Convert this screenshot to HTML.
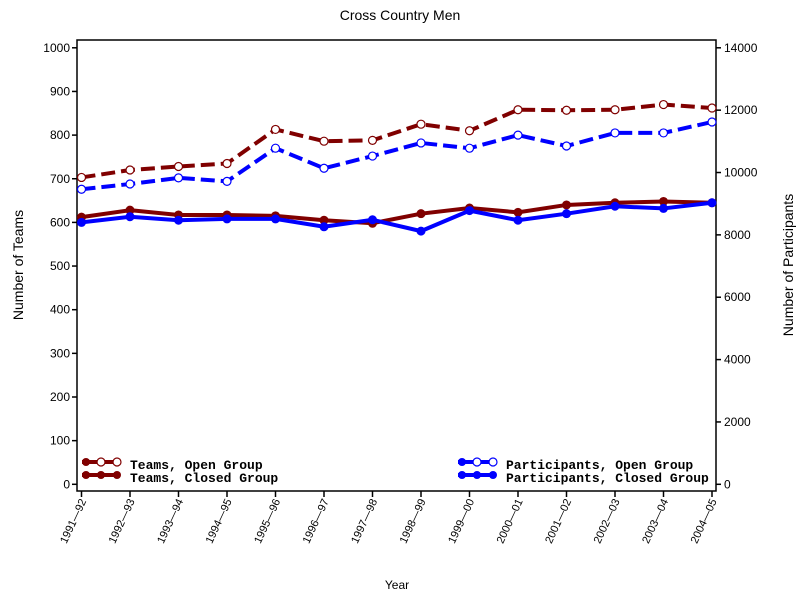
<!DOCTYPE html>
<html><head><meta charset="utf-8"><style>body{margin:0;background:#fff}svg{display:block}text{font-family:"Liberation Sans",sans-serif}text.mono{font-family:"Liberation Mono",monospace}</style></head><body>
<svg width="800" height="600" xmlns="http://www.w3.org/2000/svg">
<rect width="800" height="600" fill="#fff"/>
<text x="400" y="20" font-size="14" text-anchor="middle">Cross Country Men</text>
<g stroke="#000" stroke-width="1.5" fill="none">
<rect x="77" y="40" width="639" height="451"/>
</g>
<g id="lt" font-size="12" text-anchor="end"></g>
<g id="rt" font-size="12" text-anchor="start"></g>
<g id="xt" font-size="11"></g>
<text x="23" y="265" font-size="14" text-anchor="middle" transform="rotate(-90 23 265)">Number of Teams</text>
<text x="793" y="265" font-size="14" text-anchor="middle" transform="rotate(-90 793 265)">Number of Participants</text>
<text x="397" y="589" font-size="12" text-anchor="middle">Year</text>
<g id="series"></g>
<g font-size="13" font-weight="bold">
<text class="mono" x="130" y="469">Teams, Open Group</text>
<text class="mono" x="130" y="482">Teams, Closed Group</text>
<text class="mono" x="506" y="469">Participants, Open Group</text>
<text class="mono" x="506" y="482">Participants, Closed Group</text>
</g>
<g stroke-width="4">
<line x1="82" y1="462" x2="118" y2="462" stroke="#800000"/>
<circle cx="86" cy="462" r="4" fill="#800000" stroke="none"/><circle cx="101" cy="462" r="4" fill="#fff" stroke="#800000" stroke-width="1.2"/><circle cx="117" cy="462" r="4" fill="#fff" stroke="#800000" stroke-width="1.2"/>
<line x1="82" y1="475" x2="118" y2="475" stroke="#800000"/>
<circle cx="86" cy="475" r="4" fill="#800000"/><circle cx="101" cy="475" r="4" fill="#800000"/><circle cx="117" cy="475" r="4" fill="#800000"/>
<line x1="458" y1="462" x2="494" y2="462" stroke="#0000ff"/>
<circle cx="462" cy="462" r="4" fill="#0000ff"/><circle cx="477" cy="462" r="4" fill="#fff" stroke="#0000ff" stroke-width="1.2"/><circle cx="493" cy="462" r="4" fill="#fff" stroke="#0000ff" stroke-width="1.2"/>
<line x1="458" y1="475" x2="494" y2="475" stroke="#0000ff"/>
<circle cx="462" cy="475" r="4" fill="#0000ff"/><circle cx="477" cy="475" r="4" fill="#0000ff"/><circle cx="493" cy="475" r="4" fill="#0000ff"/>
</g>
<script>
const NS="http://www.w3.org/2000/svg";
function el(p,t,a,txt){const e=document.createElementNS(NS,t);for(const k in a)e.setAttribute(k,a[k]);if(txt!==undefined)e.textContent=txt;p.appendChild(e);return e;}
const Y=v=>484.3-v*0.4365, X=i=>81.5+i*48.5;
const lt=document.getElementById('lt'),rt=document.getElementById('rt'),xt=document.getElementById('xt');
for(let v=0;v<=1000;v+=100){const y=Y(v);el(lt,'line',{x1:72,x2:77,y1:y,y2:y,stroke:'#000','stroke-width':1.5});el(lt,'text',{x:70,y:y+4},v);}
for(let v=0;v<=14000;v+=2000){const y=Y(v/14);el(rt,'line',{x1:716,x2:721,y1:y,y2:y,stroke:'#000','stroke-width':1.5});el(rt,'text',{x:724,y:y+4},v);}
const yrs=["1991-92","1992-93","1993-94","1994-95","1995-96","1996-97","1997-98","1998-99","1999-00","2000-01","2001-02","2002-03","2003-04","2004-05"];
yrs.forEach((s,i)=>{const x=X(i);el(xt,'line',{x1:x,x2:x,y1:491,y2:497,stroke:'#000','stroke-width':1.5});el(xt,'text',{x:x+5,y:501,'text-anchor':'end',transform:`rotate(-65 ${x+5} 501)`},s.replace('-','\u2014'));});
const S=document.getElementById('series');
const data=[
 ["#800000",true,[703,720,728,735,813,786,788,825,810,858,857,858,870,862]],
 ["#0000ff",true,[676,688,702,694,770,724,752,782,770,800,775,805,805,830]],
 ["#800000",false,[612,628,617,617,615,605,598,620,633,623,640,645,648,645]],
 ["#0000ff",false,[600,613,605,608,608,590,606,580,627,605,620,637,632,645]]];
data.forEach(([c,open,v])=>{
 const pts=v.map((d,i)=>X(i)+','+Y(d)).join(' ');
 el(S,'polyline',{points:pts,fill:'none',stroke:c,'stroke-width':4,'stroke-dasharray':open?'14,6':'none'});
 v.forEach((d,i)=>el(S,'circle',{cx:X(i),cy:Y(d),r:4,fill:open?'#fff':c,stroke:c,'stroke-width':open?1.2:1}));
});
</script>
</svg>
</body></html>
